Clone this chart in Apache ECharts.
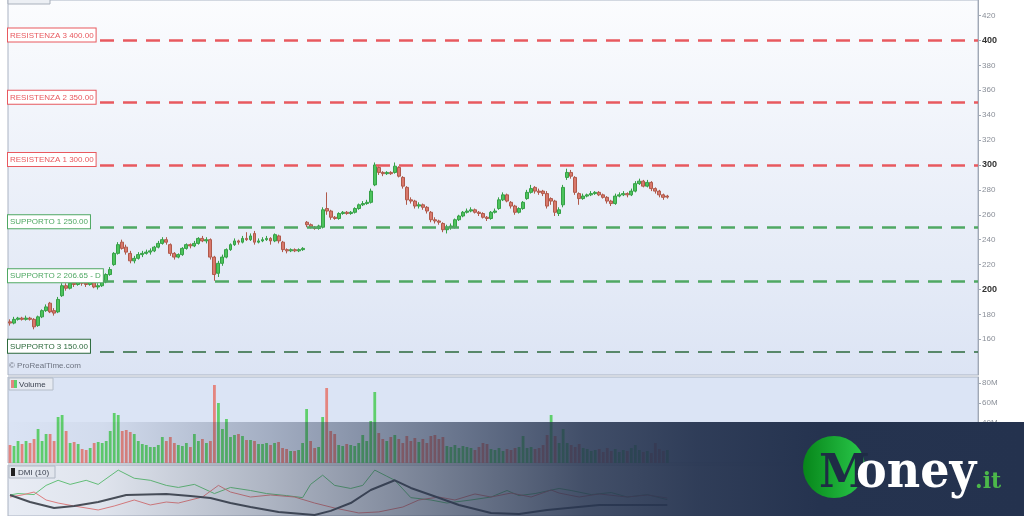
<!DOCTYPE html>
<html>
<head>
<meta charset="utf-8">
<script src="https://cdn.jsdelivr.net/npm/echarts@6/dist/echarts.min.js"></script>
<style>
html,body{margin:0;padding:0;background:#fff;}
#c{width:1024px;height:516px;}
</style>
</head>
<body>
<div id="c"></div>
<script>
// ---- DATA ----
// candles: [open, close, low, high]
const candles = [
[174,173,171,176],[173,176,172,178],[176,177,175,178],[177,176,175,178],[176,177,175,179],
[177,176,175,178],[176,170,168,177],[171,178,170,179],[178,183,177,184],[183,186,182,188],
[189,182,181,190],[183,181,179,185],[182,192,181,194],[195,203,194,205],[203,201,199,205],
[201,205,200,207],[205,204,202,206],[204,206,203,208],[206,205,203,207],[205,204,202,206],
[204,206,203,207],[206,202,201,207],[202,203,200,205],[203,206,202,208],[206,212,205,213],
[212,216,211,218],[220,229,219,230],[229,236,228,238],[238,233,232,240],[234,230,228,236],
[229,223,221,231],[223,225,221,227],[225,228,224,230],[228,229,226,231],[229,230,228,232],
[230,231,228,233],[231,234,230,235],[234,237,233,239],[237,240,236,242],[240,238,236,242],
[236,229,227,237],[229,226,224,230],[226,228,225,229],[228,233,227,234],[233,236,232,237],
[236,235,233,237],[235,237,234,239],[237,241,236,242],[241,239,238,243],[239,240,237,242],
[240,226,224,241],[226,212,207,227],[213,221,210,223],[221,226,219,228],[226,232,225,233],
[232,236,231,237],[236,239,235,241],[239,238,236,240],[238,241,237,243],[241,240,239,246],
[240,243,239,245],[245,238,236,247],[238,239,237,241],[239,240,238,242],[240,241,239,243],
[241,239,236,242],[239,244,238,245],[243,239,237,244],[238,232,230,239],[232,231,229,233],
[231,232,230,233],[232,231,230,233],[231,232,230,233],[232,233,231,234],[254,252,250,255],
[252,250,249,253],[250,249,248,251],[249,251,248,252],[250,264,249,266],[265,263,260,278],
[263,258,256,264],[258,257,256,259],[257,261,256,262],[261,262,260,263],[262,261,260,263],
[261,262,260,263],[262,265,261,266],[265,268,264,269],[268,269,267,271],[269,270,268,272],
[270,279,269,281],[284,300,283,302],[298,294,292,299],[294,293,291,295],[293,294,292,295],
[294,293,292,295],[294,299,293,302],[298,291,290,299],[290,283,281,291],[282,272,268,283],
[272,271,269,274],[271,267,265,272],[267,268,265,270],[268,266,264,269],[266,263,261,267],
[262,256,254,263],[256,255,253,258],[255,254,252,256],[253,248,246,254],[248,250,245,252],
[250,251,248,253],[250,256,249,257],[256,259,255,260],[259,262,258,263],[262,263,261,265],
[263,264,262,266],[264,262,261,265],[262,261,259,263],[261,258,257,262],[258,257,255,259],
[257,262,256,263],[262,263,261,265],[265,272,264,274],[272,276,271,278],[276,271,270,277],
[270,267,265,271],[267,262,260,268],[262,265,261,266],[265,270,264,271],[273,278,272,280],
[278,281,277,284],[282,279,277,283],[279,278,276,281],[279,277,275,280],[277,267,265,279],
[273,271,268,274],[271,262,259,272],[261,264,259,266],[268,282,266,284],[290,294,288,297],
[294,291,289,296],[290,278,276,291],[277,273,268,278],[273,275,272,277],[275,276,274,277],
[276,277,275,279],[277,278,276,279],[278,276,275,279],[276,274,273,277],[274,271,269,275],
[271,269,267,272],[269,275,268,277],[275,276,274,278],[276,277,275,279],[277,276,274,278],
[276,279,275,281],[279,285,278,287],[285,287,284,289],[287,283,282,288],[283,286,282,288],
[286,281,279,287],[281,279,277,282],[279,276,274,280],[276,274,272,277],[275,274.19,273,276]
];
// volume in millions
const volumes = [
18,17,22,19,22,20,24,34,22,29, 29,22,46,48,32,20,21,19,14,13,
15,20,21,20,22,32,50,48,32,33, 31,29,22,19,18,16,16,18,26,22,
26,20,18,17,20,16,29,22,24,20, 22,78,60,34,44,26,28,29,27,23,
23,22,19,19,20,18,20,21,15,14, 12,12,13,20,54,22,15,16,46,75,
32,29,18,17,19,18,17,20,28,22, 42,71,30,24,22,26,28,24,20,27,
22,25,21,24,20,27,28,24,26,17, 16,18,15,17,16,15,13,16,20,19,
14,13,15,12,14,13,15,16,27,15, 16,14,15,18,28,48,27,20,34,20,
18,16,19,15,14,12,13,14,11,15, 12,14,11,13,12,15,18,13,11,12,
10,20,14,12,13
];
// DMI(10) readings: [candle index, value]
const dmiPlus = [[0,20.6],[2,22],[6,21],[9,30],[12,35],[15,31],[19,35],[22,31],[27,45],[31,37],[35,35],[39,30],[42,28],[46,31],[51,22],[55,28],[60,25],[64,22],[69,20],[73,18],[75,31],[78,40],[81,30],[85,27],[88,30],[91,45],[94,39],[96,35],[100,18],[105,15.7],[109,12.7],[115,15.7],[120,18.6],[124,25],[127,20],[131,22],[137,27],[140,25],[145,21],[150,23],[154,18.6],[159,21],[164,16]];
const dmiMinus = [[0,18.6],[3,20.6],[6,23.5],[9,15.7],[12,12.7],[16,9.8],[22,5.9],[26,9.8],[31,15.7],[35,10.8],[39,13.7],[42,12.7],[48,18.6],[52,30],[55,23.5],[60,18.6],[65,20.6],[71,18.6],[76,12.7],[81,7.8],[87,3],[92,4],[98,8.8],[102,15.7],[107,18.6],[111,15.7],[116,21.6],[120,18.6],[125,22.5],[130,18.6],[135,25.5],[137,22.5],[142,18.6],[147,21.6],[154,18.6],[159,20.6],[164,17.6]];
const adx = [[0,20.6],[5,13.7],[11,7.8],[16,9.8],[22,13.7],[29,20.6],[39,21.6],[45,19.6],[50,17.6],[55,12.7],[60,8.8],[67,4],[76,1],[80,5],[85,12.7],[90,25.5],[96,35],[100,27.5],[105,20.6],[112,10.8],[120,3],[127,2],[134,5.9],[147,10.8],[164,10.8]];
const levelValues = [400, 350, 300, 250, 206.65, 150];
const levelNames = ['RESISTENZA 3 400.00','RESISTENZA 2 350.00','RESISTENZA 1 300.00','SUPPORTO 1 250.00','SUPPORTO 2 206.65 - D','SUPPORTO 3 150.00'];
const lastPrice = 274.19;
const priceTicks = [160,180,200,220,240,260,280,300,320,340,360,380,400,420];
const volumeTicks = [40,60,80];
const slotCount = 242;
const categories = Array.from({length: slotCount}, (_, i) => 'G' + (i + 1));

// ---- STYLE ----
const levelColors = ['#e8595f','#e8595f','#e8595f','#4fa863','#4fa863','#2d6a3c'];
const levelWidths = [2.5,2.5,2.5,2.5,2.5,1.6];

const chart = echarts.init(document.getElementById('c'), null, {renderer: 'canvas'});

const volData = volumes.map((v, i) => {
  const prev = i === 0 ? candles[0][0] : candles[i-1][1];
  const up = candles[i][1] >= prev;
  return {value: v, itemStyle: {color: up ? '#5fcf6c' : '#e4857f'}};
});

const markData = levelValues.map((v, i) => ({
  yAxis: v,
  lineStyle: {color: levelColors[i], width: levelWidths[i], type: [14, 9]},
  label: {
    show: true, position: 'insideStartTop', distance: [0, -1],
    formatter: levelNames[i], fontSize: 8, fontFamily: 'Liberation Sans',
    color: levelColors[i], backgroundColor: '#ffffff',
    borderColor: levelColors[i], borderWidth: 1, padding: [3, 2, 2, 2]
  }
}));
markData.push({
  yAxis: lastPrice,
  lineStyle: {opacity: 0},
  label: {
    show: true, position: 'end', distance: 1, formatter: String(lastPrice),
    fontSize: 8, fontFamily: 'Liberation Sans', color: '#5a4a00',
    backgroundColor: '#f2cf3a', padding: [2, 2, 1, 2]
  }
});

const grad = (c1, c2) => new echarts.graphic.LinearGradient(0, 0, 0, 1, [{offset: 0, color: c1}, {offset: 1, color: c2}]);

const option = {
  animation: false,
  backgroundColor: '#ffffff',
  grid: [
    {left: 8, right: 46, top: 0, height: 375, show: true, backgroundColor: grad('#fbfcfe', '#dce4f4'), borderColor: '#aab3c3', borderWidth: 1},
    {left: 8, right: 46, top: 377, height: 86, show: true, backgroundColor: '#dbe4f5', borderColor: '#aab3c3', borderWidth: 1},
    {left: 8, right: 46, top: 465, height: 51, show: true, backgroundColor: '#e9edf5', borderColor: '#aab3c3', borderWidth: 1}
  ],
  xAxis: [0, 1, 2].map(g => ({
    type: 'category', gridIndex: g, data: categories, boundaryGap: true,
    axisLine: {show: false}, axisTick: {show: false}, axisLabel: {show: false}, splitLine: {show: false}
  })),
  yAxis: [
    {
      type: 'value', gridIndex: 0, position: 'right', min: 131.3, max: 432.5, scale: true,
      axisLine: {show: true, lineStyle: {color: '#a0a8b5'}},
      axisTick: {show: true, length: 3, lineStyle: {color: '#a0a8b5'}, customValues: priceTicks},
      axisLabel: {
        show: true, customValues: priceTicks, fontSize: 8, fontFamily: 'Liberation Sans', color: '#8a8f98', margin: 4,
        formatter: v => (v % 100 === 0 ? '{b|' + v + '}' : String(v)),
        rich: {b: {fontSize: 9, fontWeight: 'bold', color: '#333', fontFamily: 'Liberation Sans'}}
      },
      splitLine: {show: false}
    },
    {
      type: 'value', gridIndex: 1, position: 'right', min: 0, max: 86,
      axisLine: {show: true, lineStyle: {color: '#a0a8b5'}},
      axisTick: {show: true, length: 3, lineStyle: {color: '#a0a8b5'}, customValues: volumeTicks},
      axisLabel: {show: true, customValues: volumeTicks, fontSize: 8, fontFamily: 'Liberation Sans', color: '#8a8f98', margin: 4, formatter: v => v + 'M'},
      splitLine: {show: false}
    },
    {
      type: 'value', gridIndex: 2, position: 'right', min: 0, max: 50,
      axisLine: {show: true, lineStyle: {color: '#a0a8b5'}},
      axisTick: {show: false}, axisLabel: {show: false}, splitLine: {show: false}
    }
  ],
  series: [
    {
      type: 'candlestick', xAxisIndex: 0, yAxisIndex: 0, data: candles, barWidth: '85%',
      itemStyle: {color: '#4cc35c', color0: '#d9786c', borderColor: '#35a046', borderColor0: '#b0594a', borderWidth: 1},
      markLine: {silent: true, symbol: 'none', animation: false, data: markData},
      z: 3
    },
    {type: 'bar', xAxisIndex: 1, yAxisIndex: 1, data: volData, barWidth: '70%'},
    {type: 'line', xAxisIndex: 2, yAxisIndex: 2, data: dmiPlus, showSymbol: false, lineStyle: {color: '#66c47a', width: 1}},
    {type: 'line', xAxisIndex: 2, yAxisIndex: 2, data: dmiMinus, showSymbol: false, lineStyle: {color: '#e27f80', width: 1}},
    {type: 'line', xAxisIndex: 2, yAxisIndex: 2, data: adx, showSymbol: false, lineStyle: {color: '#4a4f58', width: 2}}
  ],
  graphic: [
    {type: 'rect', z: 10, shape: {x: 8, y: -6, width: 42, height: 10}, style: {fill: '#eceff4', stroke: '#a9b0bc', lineWidth: 1}},
    {type: 'text', z: 10, style: {text: '© ProRealTime.com', x: 9, y: 366, fontSize: 8, fontFamily: 'Liberation Sans', fill: '#6d7380', verticalAlign: 'middle'}},
    {type: 'rect', z: 10, shape: {x: 9, y: 378, width: 44, height: 12}, style: {fill: '#e6eaf1', stroke: '#b4bcc8', lineWidth: 1}},
    {type: 'rect', z: 11, shape: {x: 11, y: 380, width: 3, height: 8}, style: {fill: '#e4857f'}},
    {type: 'rect', z: 11, shape: {x: 14, y: 380, width: 3, height: 8}, style: {fill: '#5fcf6c'}},
    {type: 'text', z: 11, style: {text: 'Volume', x: 19, y: 384.5, fontSize: 8, fontFamily: 'Liberation Sans', fill: '#3c4350', verticalAlign: 'middle'}},
    {type: 'rect', z: 10, shape: {x: 9, y: 466, width: 46, height: 12}, style: {fill: '#e6eaf1', stroke: '#b4bcc8', lineWidth: 1}},
    {type: 'rect', z: 11, shape: {x: 11, y: 468, width: 4, height: 8}, style: {fill: '#222'}},
    {type: 'text', z: 11, style: {text: 'DMI (10)', x: 18, y: 472.5, fontSize: 8, fontFamily: 'Liberation Sans', fill: '#3c4350', verticalAlign: 'middle'}},
    {
      type: 'rect', z: 100, shape: {x: 0, y: 422, width: 1024, height: 94},
      style: {fill: new echarts.graphic.LinearGradient(0, 0, 1, 0, [
        {offset: 0, color: 'rgba(38,52,80,0)'},
        {offset: 0.1, color: 'rgba(38,52,80,0.05)'},
        {offset: 0.26, color: 'rgba(38,52,80,0.3)'},
        {offset: 0.44, color: 'rgba(38,52,80,0.62)'},
        {offset: 0.57, color: 'rgba(38,52,80,0.85)'},
        {offset: 0.68, color: 'rgba(38,52,80,0.95)'},
        {offset: 0.8, color: 'rgba(37,51,79,1)'},
        {offset: 1, color: 'rgba(36,50,78,1)'}
      ])}
    },
    {
      type: 'circle', z: 101, shape: {cx: 834, cy: 467, r: 31},
      style: {fill: new echarts.graphic.LinearGradient(0, 0, 1, 0, [
        {offset: 0, color: '#07861a'}, {offset: 1, color: '#2ac94b'}
      ])}
    },
    {type: 'text', z: 102, style: {text: 'M', x: 819, y: 475, fontSize: 46, fontWeight: 'bold', fontFamily: 'DejaVu Serif', fill: '#1e2c45', verticalAlign: 'middle'}},
    {type: 'text', z: 102, transform: null, scaleY: 1.1, originY: 487, style: {text: 'oney', x: 856, y: 475, fontSize: 46, fontWeight: 'bold', fontFamily: 'DejaVu Serif', fill: '#ffffff', verticalAlign: 'middle'}},
    {type: 'text', z: 102, style: {text: '.it', x: 975, y: 482, fontSize: 22, fontWeight: 'bold', fontFamily: 'DejaVu Serif', fill: '#4cb84a', verticalAlign: 'middle'}}
  ]
};
chart.setOption(option);
</script>
</body>
</html>
